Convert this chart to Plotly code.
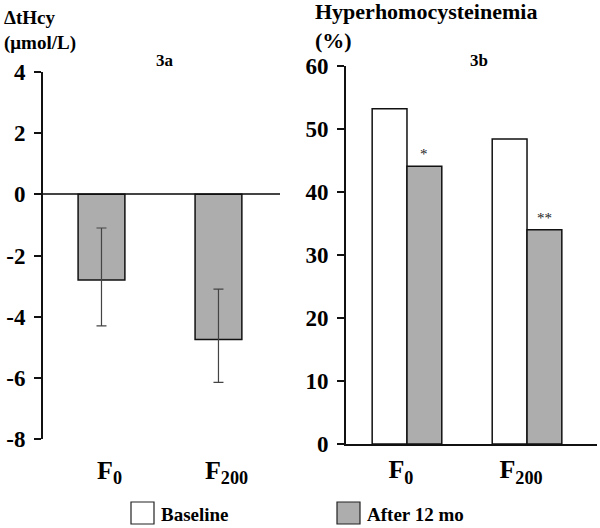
import plotly.graph_objects as go

# ---- data ----
categories = ["F<sub>0</sub>", "F<sub>200</sub>"]
change_mean = [-2.8, -4.75]
change_err_plus = [1.7, 1.65]
change_err_minus = [1.5, 1.4]
baseline_pct = [53.2, 48.4]
after_pct = [44.1, 34.0]
sig_marks = ["*", "**"]
left_ticks = [4, 2, 0, -2, -4, -6, -8]
right_ticks = [0, 10, 20, 30, 40, 50, 60]

W, H = 600, 528
def px(x): return x / W
def py(y): return 1 - y / H

FONT = "Liberation Serif"
GRAY = "#adadad"
xpos = list(range(len(categories)))

fig = go.Figure()

fig.add_trace(go.Bar(
    x=xpos, y=change_mean, width=0.4, name="After 12 mo",
    marker=dict(color=GRAY, line=dict(color="#111", width=1.5)),
    error_y=dict(type="data", symmetric=False, array=change_err_plus,
                 arrayminus=change_err_minus, color="#444", thickness=1.2, width=5),
    xaxis="x", yaxis="y", showlegend=False))

bw = 0.29
fig.add_trace(go.Bar(
    x=xpos, y=baseline_pct, width=bw, offset=-bw, name="Baseline",
    marker=dict(color="white", line=dict(color="#111", width=1.5)),
    xaxis="x2", yaxis="y2", showlegend=False))
fig.add_trace(go.Bar(
    x=xpos, y=after_pct, width=bw, offset=0, name="After 12 mo",
    marker=dict(color=GRAY, line=dict(color="#111", width=1.5)),
    xaxis="x2", yaxis="y2", showlegend=False))

tickfont = dict(family=FONT, size=23, color="black", weight="bold")
catfont = dict(family=FONT, size=26, color="black", weight="bold")

annotations = []
for i, (v, s) in enumerate(zip(after_pct, sig_marks)):
    annotations.append(dict(x=i + bw / 2, y=v, xref="x2", yref="y2", text=s,
                            showarrow=False, yanchor="bottom", yshift=2,
                            font=dict(family=FONT, size=15, color="#222")))

def txt(x, y, t, size, xanchor="left"):
    annotations.append(dict(x=px(x), y=py(y), xref="paper", yref="paper", text=t,
                            showarrow=False, xanchor=xanchor, yanchor="middle",
                            font=dict(family=FONT, size=size, color="black", weight="bold")))

txt(2, 17, "ΔtHcy", 19)
txt(2, 43, "(μmol/L)", 19)
txt(165, 60, "3a", 17, "center")
txt(313, 12, "Hyperhomocysteinemia", 22)
txt(313, 40, "(%)", 22)
txt(479, 61, "3b", 17, "center")
txt(159, 514, "Baseline", 19)
txt(365, 514, "After 12 mo", 19)

shapes = [
    dict(type="rect", xref="paper", yref="paper", x0=px(131), x1=px(154), y0=py(524), y1=py(502),
         fillcolor="white", line=dict(color="#222", width=1.2)),
    dict(type="rect", xref="paper", yref="paper", x0=px(337), x1=px(360), y0=py(524), y1=py(502),
         fillcolor=GRAY, line=dict(color="#222", width=1.2)),
]

fig.update_layout(
    width=W, height=H, margin=dict(l=0, r=0, t=0, b=0, autoexpand=False),
    paper_bgcolor="white", plot_bgcolor="white", showlegend=False,
    barmode="overlay",
    xaxis=dict(domain=[px(43), px(280)], range=[-0.5, 1.526], tickvals=xpos, ticktext=categories,
               showgrid=False, zeroline=False, showline=False, ticks="", automargin=False,
               ticklabelstandoff=13, ticklabelshift=8, tickfont=catfont, anchor="y"),
    yaxis=dict(domain=[py(439), py(72)], range=[-8, 4], tickvals=left_ticks,
               ticktext=[str(v) for v in left_ticks], automargin=False,
               showgrid=False, zeroline=True, zerolinecolor="#444", zerolinewidth=1.5,
               showline=True, linecolor="#111", linewidth=2, ticks="outside", ticklen=7,
               tickwidth=2, tickcolor="#111", ticklabelstandoff=4, tickfont=tickfont, anchor="x"),
    xaxis2=dict(domain=[px(346), px(597)], range=[-0.508, 1.583], tickvals=xpos, ticktext=categories,
                showgrid=False, zeroline=False, showline=True, linecolor="#111", linewidth=2, ticks="",
                automargin=False, ticklabelstandoff=1, ticklabelshift=-6, tickfont=catfont, anchor="y2"),
    yaxis2=dict(domain=[py(444), py(66)], range=[0, 60], tickvals=right_ticks, automargin=False,
                showgrid=False, zeroline=False,
                showline=True, linecolor="#111", linewidth=2, ticks="outside", ticklen=7,
                tickwidth=2, tickcolor="#111", ticklabelstandoff=4, tickfont=tickfont, anchor="x2"),
    annotations=annotations, shapes=shapes,
)

fig.write_html("out.html", config={"displayModeBar": False},
               post_script="document.body.style.margin='0';document.body.style.overflow='hidden';")
